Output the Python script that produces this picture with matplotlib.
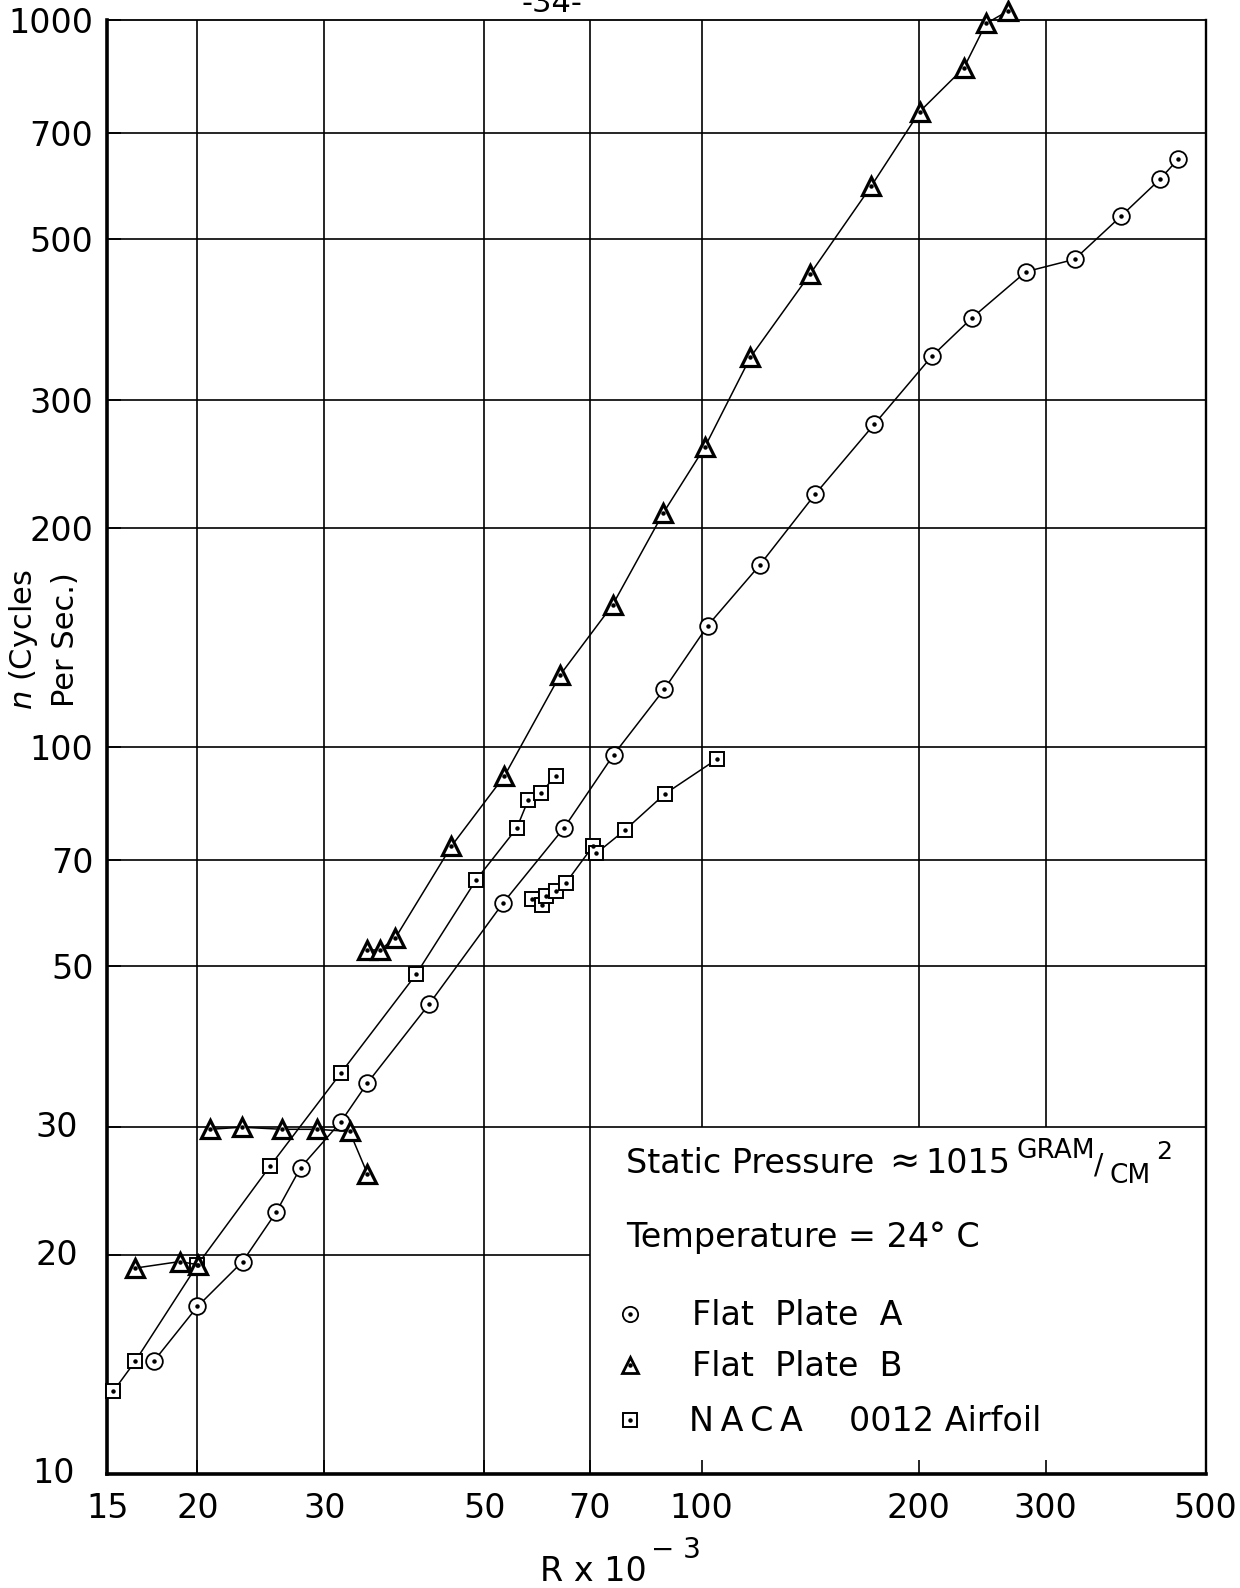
import matplotlib
matplotlib.use("Agg")
import matplotlib.pyplot as plt
import matplotlib.ticker as mticker
from matplotlib.transforms import blended_transform_factory

plt.rcParams['font.family'] = ['DejaVu Sans']

# Flat plate A (circles)
plate_a_R = [17.4, 20.0, 23.1, 25.7, 27.8, 31.6, 34.4, 41.9, 53.1, 64.5, 75.5, 88.8,
             102, 120.4, 143.8, 173.5, 208.6, 237.4, 281.8, 329, 381.8, 431.8, 457.8]
plate_a_n = [14.3, 17.0, 19.6, 22.9, 26.4, 30.5, 34.5, 44.3, 61.1, 77.5, 97.6, 120.2,
             147, 178, 223, 278, 345, 390, 451, 469, 538, 604, 644]

# Flat plate B (triangles), three branches
plate_b_low_R = [16.4, 18.9, 20.06]
plate_b_low_n = [19.2, 19.6, 19.4]
plate_b_mid_R = [20.8, 23.05, 26.2, 29.3, 32.5, 34.4]
plate_b_mid_n = [29.8, 30.0, 29.8, 29.8, 29.6, 25.9]
plate_b_main_R = [34.4, 35.8, 37.6, 45.0, 53.3, 63.7, 75.3, 88.5, 101.1, 116.9,
                  141.5, 171.8, 200.7, 231, 248, 266]
plate_b_main_n = [52.6, 52.6, 54.6, 73.1, 91.3, 125.8, 157, 210, 259, 344,
                  448, 591, 749, 860, 990, 1030]

# NACA 0012 airfoil (squares), two branches
naca_1_R = [15.29, 16.4, 20.0, 25.2, 31.6, 40.2, 48.7, 55.4, 57.5, 59.8, 62.8]
naca_1_n = [13.0, 14.3, 19.4, 26.5, 35.6, 48.7, 65.7, 77.3, 84.6, 86.4, 91.4]
naca_2_R = [58.2, 60.1, 60.8, 62.9, 64.8, 70.7, 71.4, 78.3, 88.9, 104.9]
naca_2_n = [61.8, 60.7, 62.4, 63.3, 65.0, 73.1, 71.4, 76.9, 86.2, 96.2]

xticks = [15, 20, 30, 50, 70, 100, 200, 300, 500]
yticks = [10, 20, 30, 50, 70, 100, 200, 300, 500, 700, 1000]
low_yticks = [10, 20, 30]   # these labels sit further left on the original

fig = plt.figure(figsize=(12.4, 15.88), dpi=100)
ax = fig.add_axes([0.0866, 0.0718, 0.8857, 0.9154])
ax.set_xscale('log')
ax.set_yscale('log')
ax.set_xlim(15, 500)
ax.set_ylim(10, 1000)

# grid, leaving the lower right corner open for the key
glw = 1.2
for gx in [20, 30, 50, 70]:
    ax.axvline(gx, color='black', lw=glw, zorder=1)
for gx in [100, 200, 300]:
    ax.vlines(gx, 30, 1000, color='black', lw=glw, zorder=1)
ax.hlines(20, 15, 70, color='black', lw=glw, zorder=1)
for gy in [30, 50, 70, 100, 200, 300, 500, 700]:
    ax.axhline(gy, color='black', lw=glw, zorder=1)


def draw(R, n, marker, ms, mew):
    ax.plot(R, n, color='black', lw=1.1, marker=marker, ms=ms, mfc='white',
            mec='black', mew=mew, zorder=3, clip_on=False)
    ax.plot(R, n, ls='none', marker='o', ms=2.2, color='black', zorder=4,
            clip_on=False)


draw(plate_a_R, plate_a_n, 'o', 12, 1.3)
draw(naca_1_R, naca_1_n, 's', 10, 1.4)
draw(naca_2_R, naca_2_n, 's', 10, 1.4)
draw(plate_b_low_R, plate_b_low_n, '^', 12.5, 2.3)
draw(plate_b_mid_R, plate_b_mid_n, '^', 12.5, 2.3)
draw(plate_b_main_R, plate_b_main_n, '^', 12.5, 2.3)

ax.set_xticks(xticks)
ax.set_xticklabels([str(v) for v in xticks])
ax.set_yticks(yticks)
ax.set_yticklabels(['' if v in low_yticks else str(v) for v in yticks])
ax.xaxis.set_minor_locator(mticker.NullLocator())
ax.yaxis.set_minor_locator(mticker.NullLocator())
ax.tick_params(axis='both', which='major', direction='in', length=10,
               width=1.2, labelsize=24)
ax.tick_params(axis='x', pad=13)
ax.tick_params(axis='y', pad=10)

ytr = blended_transform_factory(ax.transAxes, ax.transData)
for v, fx in zip(low_yticks, [-0.030, -0.0268, -0.0268]):
    ax.text(fx, v, str(v), transform=ytr, ha='right', va='center', fontsize=24)

ax.spines['left'].set_linewidth(2.6)
ax.spines['bottom'].set_linewidth(2.6)
ax.spines['top'].set_linewidth(1.3)
ax.spines['right'].set_linewidth(1.7)

tr = ax.transAxes

# axis titles
ax.text(0.4426, -0.0674, "R x 10", transform=tr, ha='center', va='center', fontsize=24)
ax.text(0.5178, -0.0523, "− 3", transform=tr, ha='center', va='center', fontsize=20)
ax.text(-0.0762, 0.5737, r"$n$ (Cycles", transform=tr, rotation=90,
        ha='center', va='center', fontsize=22)
ax.text(-0.0377, 0.5737, "Per Sec.)", transform=tr, rotation=90,
        ha='center', va='center', fontsize=22)

# key / conditions box
ax.text(0.4723, 0.2139, "Static Pressure", transform=tr, ha='left', va='center', fontsize=24)
ax.text(0.726, 0.2139, "≈", transform=tr, ha='center', va='center', fontsize=26)
ax.text(0.7445, 0.2139, "1015", transform=tr, ha='left', va='center', fontsize=24)
ax.text(0.8275, 0.2225, "GRAM", transform=tr, ha='left', va='center', fontsize=19)
ax.text(0.903, 0.2125, "/", transform=tr, ha='center', va='center', fontsize=20)
ax.text(0.9124, 0.2052, "CM", transform=tr, ha='left', va='center', fontsize=19)
ax.text(0.955, 0.2218, "2", transform=tr, ha='left', va='center', fontsize=18)
ax.text(0.4723, 0.1624, "Temperature = 24° C", transform=tr, ha='left', va='center', fontsize=24)

ax.plot([0.476], [0.110], transform=tr, marker='o', ms=11, mfc='white', mec='black', mew=1.3)
ax.plot([0.476], [0.110], transform=tr, marker='o', ms=2.2, color='black')
ax.plot([0.476], [0.0753], transform=tr, marker='^', ms=11, mfc='white', mec='black', mew=2)
ax.plot([0.476], [0.0753], transform=tr, marker='o', ms=2.2, color='black')
ax.plot([0.476], [0.0369], transform=tr, marker='s', ms=10, mfc='white', mec='black', mew=1.4)
ax.plot([0.476], [0.0369], transform=tr, marker='o', ms=2.2, color='black')
ax.text(0.5323, 0.1087, "Flat  Plate  A", transform=tr, ha='left', va='center', fontsize=24)
ax.text(0.5323, 0.0739, "Flat  Plate  B", transform=tr, ha='left', va='center', fontsize=24)
ax.text(0.5295, 0.0362, "N\u2009A\u2009C\u2009A", transform=tr, ha='left', va='center', fontsize=24)
ax.text(0.6753, 0.0362, "0012 Airfoil", transform=tr, ha='left', va='center', fontsize=24)

# page number, cut by the top edge
fig.text(552 / 1240, 1 - 3 / 1588, "-34-", ha='center', va='center', fontsize=22)

fig.savefig("out.png", dpi=100)
